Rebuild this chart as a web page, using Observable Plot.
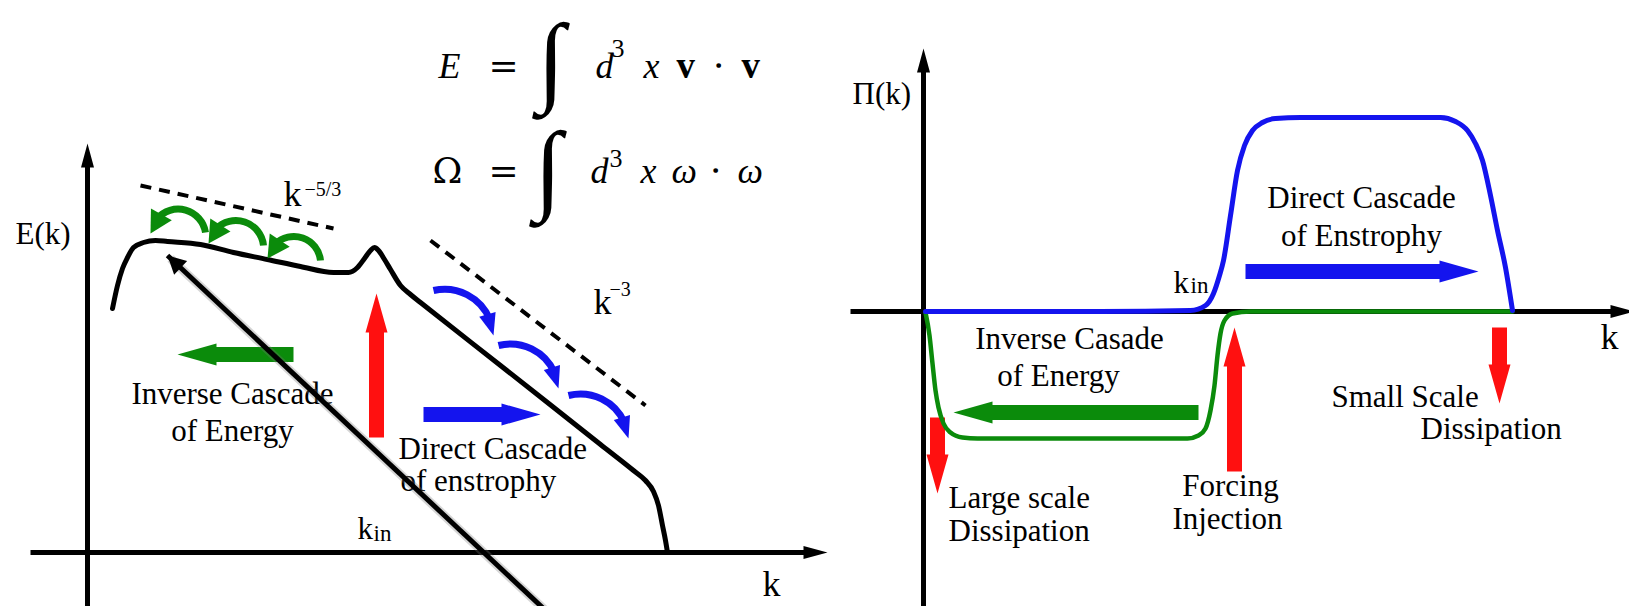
<!DOCTYPE html>
<html><head><meta charset="utf-8">
<script src="https://cdn.jsdelivr.net/npm/d3@7"></script>
<script src="https://cdn.jsdelivr.net/npm/@observablehq/plot@0.6"></script>
<style>html,body{margin:0;padding:0;background:#fff;overflow:hidden}#chart svg{display:block}</style>
</head><body><div id="chart"></div>
<script>
// ---- Left panel: schematic energy spectrum E(k) (diagram units, y grows downward)
const spectrumK = [112,117,122,127,133,143,155,167,200,233,267,300,333,348,357,364,370,374,378,384,390,400,410,420,500,600,633,645,653,658,662,665,667];
const spectrumE = [308,285,268,257,247,242,240,241,244,252,259,266,272,272,267,258,250,247,250,259,269,285,294,302,365,444,470,480,491,505,525,540,552];

// ---- Right panel: fluxes Π(k)
const energyFluxK  = [925,929,932,935,938,943,950,962,977,1187,1198,1205,1210,1214,1217,1220,1224,1232,1250,1512];
const energyFluxPi = [312,335,363,390,407,423,432,437,438,438,435,428,410,385,355,333,320,313,311,311];
const enstrophyFluxK  = [925,1100,1190,1205,1213,1219,1223,1230,1237,1244,1252,1262,1275,1300,1440,1455,1467,1475,1482,1490,1497,1505,1512];
const enstrophyFluxPi = [311,311,310,305,293,275,260,215,170,145,130,122,118,117,117,121,130,143,160,195,230,267,310];

// ---- Axes (tail -> tip)
const axisName = ["E(k) axis","k axis (left)","Π(k) axis","k axis (right)"];
const axisX1 = [87, 30, 923, 850];
const axisY1 = [606, 552, 606, 311];
const axisX2 = [87, 827, 923, 1634];
const axisY2 = [143, 552, 48, 311];

// ---- Straight flux arrows (tail -> tip)
const fluxArrowQuantity = ["energy","forcing","enstrophy","enstrophy","energy","forcing","forcing","forcing"];
const fluxArrowX1 = [293, 376, 423, 1245, 1198, 1234, 937, 1499];
const fluxArrowY1 = [354, 437, 414, 271, 412, 471, 417, 327];
const fluxArrowX2 = [177, 376, 540, 1478, 953, 1234, 937, 1499];
const fluxArrowY2 = [354, 293, 414, 271, 412, 327, 493, 403];

// ---- Curved cascade arrows (tail -> tip, bend in degrees)
const cascadeQuantity = ["energy","energy","energy","enstrophy","enstrophy","enstrophy"];
const cascadeX1 = [205, 263, 320, 433, 498, 568];
const cascadeY1 = [232, 245, 260, 290, 345, 395];
const cascadeX2 = [150, 208, 267, 493, 558, 628];
const cascadeY2 = [233, 243, 258, 335, 388, 438];
const cascadeBend = [-82, -82, -82, 50, 50, 50];

// ---- Power-law guide lines
const guideName = ["k^-5/3", "k^-3"];
const guideX1 = [140, 430];
const guideY1 = [185, 240];
const guideX2 = [333, 645];
const guideY2 = [228, 405];

// ---- Diagonal pointer arrow
const pointerX1 = [560], pointerY1 = [624], pointerX2 = [167], pointerY2 = [255];

// ---- Labels
const bodyText = ["Inverse Cascade","of Energy","Direct Cascade","of Enstrophy","Inverse Casade","of Energy","Forcing","Injection"];
const bodyX = [232, 232, 1361, 1361, 1069, 1058, 1230, 1227];
const bodyY = [403, 440, 207, 245, 348, 385, 495, 528];
const startText = ["Direct Cascade","of enstrophy","Large scale","Dissipation","Small Scale","Dissipation","E(k)","Π(k)"];
const startX = [398, 400, 948, 948, 1331, 1420, 15, 852];
const startY = [458, 490, 507, 540, 406, 438, 243, 103];
const kText = ["k","k","k","k"];
const kX = [762, 1600, 283, 593];
const kY = [595, 348, 205, 313];
const kinX = [357, 1173];
const kinY = [538, 292];
const subX = [373, 1190];
const subY = [540, 292];
const supText = ["−5/3", "−3"];
const supX = [304, 609];
const supY = [195, 295];

// ---- Equations
const eqItalic = ["E","d","x","d","x","ω","ω"];
const eqItalicX = [438, 595, 643, 590, 640, 671, 737];
const eqItalicY = [77, 77, 77, 182, 182, 182, 182];
const eqBold = ["v","v"];
const eqBoldX = [676, 741];
const eqBoldY = [77, 77];
const eqUpright = ["=","⋅","Ω","=","⋅"];
const eqUprightX = [488, 712, 432, 488, 709];
const eqUprightY = [77, 77, 182, 182, 182];
const eqSup = ["3","3"];
const eqSupX = [611, 609];
const eqSupY = [56, 166];
const eqIntegral = ["∫","∫"];
const eqIntegralX = [537, 534];
const eqIntegralY = [60, 168];

// ---------- geometry helpers ----------
function arrowPolygon(id, cat, x1, y1, x2, y2, shaft, headW, headL) {
  const L = Math.hypot(x2 - x1, y2 - y1);
  const ux = (x2 - x1) / L, uy = (y2 - y1) / L, nx = -uy, ny = ux;
  const bx = x2 - ux * headL, by = y2 - uy * headL, s = shaft / 2, h = headW / 2;
  return [[x1 + nx*s, y1 + ny*s],[bx + nx*s, by + ny*s],[bx + nx*h, by + ny*h],[x2, y2],
          [bx - nx*h, by - ny*h],[bx - nx*s, by - ny*s],[x1 - nx*s, y1 - ny*s]]
    .map(([x, y]) => ({id, cat, x, y}));
}
function headPolygon(id, cat, fromX, fromY, tipX, tipY, headW, headL) {
  const L = Math.hypot(tipX - fromX, tipY - fromY);
  const ux = (tipX - fromX) / L, uy = (tipY - fromY) / L, nx = -uy, ny = ux;
  const bx = tipX - ux * headL, by = tipY - uy * headL, h = headW / 2;
  return [[bx + nx*h, by + ny*h],[tipX, tipY],[bx - nx*h, by - ny*h]].map(([x, y]) => ({id, cat, x, y}));
}
function arcEnd(x1, y1, x2, y2, bendDeg, back) {
  const b = bendDeg * Math.PI / 180;
  const L = Math.hypot(x2 - x1, y2 - y1), phi = Math.atan2(y2 - y1, x2 - x1);
  const r = L / 2 / Math.abs(Math.sin(b)), d = (L / 2) * Math.abs(Math.cos(b) / Math.sin(b));
  const side = b > 0 ? phi + Math.PI / 2 : phi - Math.PI / 2;
  const cx = (x1 + x2) / 2 + d * Math.cos(side), cy = (y1 + y2) / 2 + d * Math.sin(side);
  const t = Math.atan2(y2 - cy, x2 - cx) - Math.sign(b) * back / r;
  return [cx + r * Math.cos(t), cy + r * Math.sin(t)];
}

const axisPolys = axisName.flatMap((n, i) => arrowPolygon("axis" + i, "axis", axisX1[i], axisY1[i], axisX2[i], axisY2[i], 5, 13, 24));
const fluxPolys = fluxArrowQuantity.flatMap((q, i) => arrowPolygon("flux" + i, q, fluxArrowX1[i], fluxArrowY1[i], fluxArrowX2[i], fluxArrowY2[i], 15, 22, 39));
const cascadeHeads = cascadeQuantity.flatMap((q, i) => {
  const hl = 22, hw = q === "energy" ? 24 : 17;
  const [ex, ey] = arcEnd(cascadeX1[i], cascadeY1[i], cascadeX2[i], cascadeY2[i], cascadeBend[i], hl);
  return headPolygon("head" + i, q, ex, ey, cascadeX2[i], cascadeY2[i], hw, hl);
});
const pointerHead = headPolygon("pointer", "axis", pointerX1[0], pointerY1[0], pointerX2[0], pointerY2[0], 19, 18);

const spectrum = spectrumK.map((k, i) => ({k, e: spectrumE[i]}));
const energyFlux = energyFluxK.map((k, i) => ({k, p: energyFluxPi[i]}));
const enstrophyFlux = enstrophyFluxK.map((k, i) => ({k, p: enstrophyFluxPi[i]}));
const idx = (a) => d3.range(a.length);

const serif = "'Liberation Serif','Times New Roman',serif";
const cascadeArrows = cascadeQuantity.map((q, i) =>
  Plot.arrow([i], {x1: j => cascadeX1[j], y1: j => cascadeY1[j], x2: j => cascadeX2[j], y2: j => cascadeY2[j],
    stroke: j => cascadeQuantity[j], strokeWidth: 7, bend: cascadeBend[i], headLength: 0, insetEnd: 16, strokeLinecap: "butt"}));

const chart = Plot.plot({
  width: 1629, height: 606, margin: 0,
  x: {domain: [0, 1629], axis: null},
  y: {domain: [606, 0], axis: null},
  color: {type: "ordinal", domain: ["axis","energy","enstrophy","forcing"], range: ["#000000","#0b8b0b","#1414ee","#ff1010"]},
  style: {fontFamily: serif, background: "white", color: "black"},
  marks: [
    Plot.line(axisPolys, {x: "x", y: "y", z: "id", fill: "cat", stroke: "none", curve: "linear-closed"}),
    Plot.line(fluxPolys, {x: "x", y: "y", z: "id", fill: "cat", stroke: "none", curve: "linear-closed"}),
    Plot.line(energyFlux, {x: "k", y: "p", stroke: "#0b8b0b", strokeWidth: 4.5, curve: "monotone-x"}),
    Plot.line(enstrophyFlux, {x: "k", y: "p", stroke: "#1414ee", strokeWidth: 5, curve: "monotone-x"}),
    Plot.line(spectrum, {x: "k", y: "e", stroke: "black", strokeWidth: 5, curve: "monotone-x"}),
    Plot.link(idx(guideName), {x1: i => guideX1[i], y1: i => guideY1[i], x2: i => guideX2[i], y2: i => guideY2[i],
      stroke: "black", strokeWidth: 4, strokeDasharray: "11,8", strokeLinecap: "butt"}),
    ...cascadeArrows,
    Plot.line(cascadeHeads, {x: "x", y: "y", z: "id", fill: "cat", stroke: "none", curve: "linear-closed"}),
    // labels
    Plot.text(idx(bodyText), {x: i => bodyX[i], y: i => bodyY[i], text: i => bodyText[i], fontSize: 31, textAnchor: "middle", lineAnchor: "bottom", fontFamily: serif}),
    Plot.text(idx(startText), {x: i => startX[i], y: i => startY[i], text: i => startText[i], fontSize: 31, textAnchor: "start", lineAnchor: "bottom", fontFamily: serif}),
    Plot.text(idx(kText), {x: i => kX[i], y: i => kY[i], text: i => kText[i], fontSize: 36, textAnchor: "start", lineAnchor: "bottom", fontFamily: serif}),
    Plot.text(idx(kinX), {x: i => kinX[i], y: i => kinY[i], text: () => "k", fontSize: 31, textAnchor: "start", lineAnchor: "bottom", fontFamily: serif}),
    Plot.text(idx(subX), {x: i => subX[i], y: i => subY[i], text: () => "in", fontSize: 23, textAnchor: "start", lineAnchor: "bottom", fontFamily: serif}),
    Plot.text(idx(supText), {x: i => supX[i], y: i => supY[i], text: i => supText[i], fontSize: 20, textAnchor: "start", lineAnchor: "bottom", fontFamily: serif}),
    // equations
    Plot.text(idx(eqItalic), {x: i => eqItalicX[i], y: i => eqItalicY[i], text: i => eqItalic[i], fontSize: 36, fontStyle: "italic", textAnchor: "start", lineAnchor: "bottom", fontFamily: serif}),
    Plot.text(idx(eqBold), {x: i => eqBoldX[i], y: i => eqBoldY[i], text: i => eqBold[i], fontSize: 37, fontWeight: "bold", textAnchor: "start", lineAnchor: "bottom", fontFamily: serif}),
    Plot.text(idx(eqUpright), {x: i => eqUprightX[i], y: i => eqUprightY[i], text: i => eqUpright[i], fontSize: 36, textAnchor: "start", lineAnchor: "bottom", fontFamily: "'DejaVu Serif',serif"}),
    Plot.text(idx(eqSup), {x: i => eqSupX[i], y: i => eqSupY[i], text: i => eqSup[i], fontSize: 26, textAnchor: "start", lineAnchor: "bottom", fontFamily: serif}),
    Plot.text(idx(eqIntegral), {x: i => eqIntegralX[i], y: i => eqIntegralY[i], text: i => eqIntegral[i], fontSize: 100, fontStyle: "italic", textAnchor: "start", lineAnchor: "middle", fontFamily: serif}),
    // diagonal pointer arrow (with soft shadow)
    Plot.link([0], {x1: pointerX1, y1: pointerY1, x2: pointerX2, y2: pointerY2, stroke: "#777", strokeOpacity: 0.3, strokeWidth: 9, dx: 3, dy: 3}),
    Plot.link([0], {x1: pointerX1, y1: pointerY1, x2: pointerX2, y2: pointerY2, stroke: "black", strokeWidth: 5}),
    Plot.line(pointerHead, {x: "x", y: "y", z: "id", fill: "cat", stroke: "none", curve: "linear-closed"})
  ]
});
document.getElementById("chart").appendChild(chart);
</script></body></html>
